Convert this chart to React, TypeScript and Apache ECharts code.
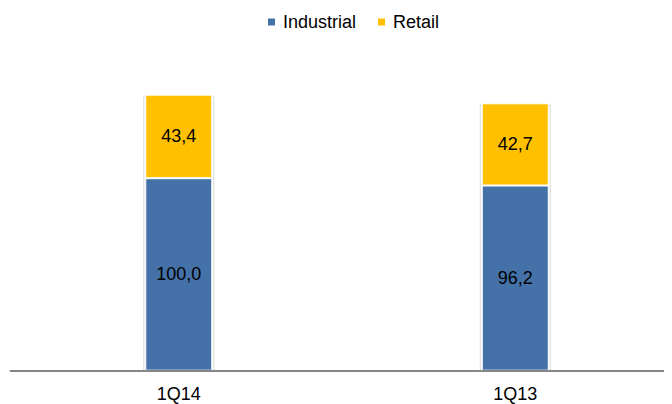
import React, { useEffect, useRef } from "react";
import * as echarts from "echarts";

const categories = ["1Q14", "1Q13"];
const industrial = [100.0, 96.2];
const retail = [43.4, 42.7];

const fmt = (v: number) => v.toFixed(1).replace(".", ",");

export default function App() {
  const ref = useRef<HTMLDivElement>(null);
  useEffect(() => {
    const chart = echarts.init(ref.current!, null, { renderer: "svg" });
    const font = "'Liberation Sans', 'Noto Sans', sans-serif";
    const label = {
      show: true,
      position: "inside" as const,
      color: "#000",
      fontSize: 18,
      fontFamily: font,
      formatter: (p: any) => fmt(p.value),
    };
    const totals = industrial.map((v, i) => v + retail[i] - 0.6);
    chart.setOption({
      animation: false,
      textStyle: { fontFamily: font },
      legend: {
        top: 0,
        left: 253,
        itemWidth: 9,
        itemHeight: 9,
        itemGap: 20,
        icon: "rect",
        textStyle: { fontSize: 18, color: "#000", fontFamily: font, padding: [0, 0, 0, 2] },
        data: ["Industrial", "Retail"],
      },
      grid: { left: 2.5, right: 4.5, top: 54.7, bottom: 33.3, containLabel: false },
      xAxis: [
        {
          type: "category",
          data: categories,
          axisLine: { lineStyle: { color: "#868686", width: 2 } },
          axisTick: { show: false },
          axisLabel: { color: "#000", fontSize: 18, margin: 14, fontFamily: font },
          z: 5,
        },
        {
          type: "category",
          data: categories,
          show: false,
        },
      ],
      yAxis: {
        type: "value",
        min: 0,
        max: 160,
        show: false,
        splitLine: { show: false },
      },
      series: [
        {
          name: "outline",
          type: "bar",
          xAxisIndex: 1,
          barWidth: 71,
          data: totals,
          silent: true,
          z: 1,
          itemStyle: {
            color: "transparent",
            borderColor: "#b4b4b4",
            borderWidth: 1,
            borderType: "dotted",
          },
        },
        {
          name: "Industrial",
          type: "bar",
          stack: "total",
          barWidth: 67,
          data: industrial,
          z: 2,
          itemStyle: { color: "#4472A8", borderColor: "#fff", borderWidth: 1 },
          label,
        },
        {
          name: "Retail",
          type: "bar",
          stack: "total",
          barWidth: 67,
          data: retail,
          z: 2,
          itemStyle: { color: "#FFC000", borderColor: "#fff", borderWidth: 1 },
          label,
        },
      ],
    });
    return () => chart.dispose();
  }, []);
  return (
    <div style={{ width: 664, height: 396, overflow: "hidden" }}>
      <div ref={ref} style={{ width: 680, height: 396 }} />
    </div>
  );
}
